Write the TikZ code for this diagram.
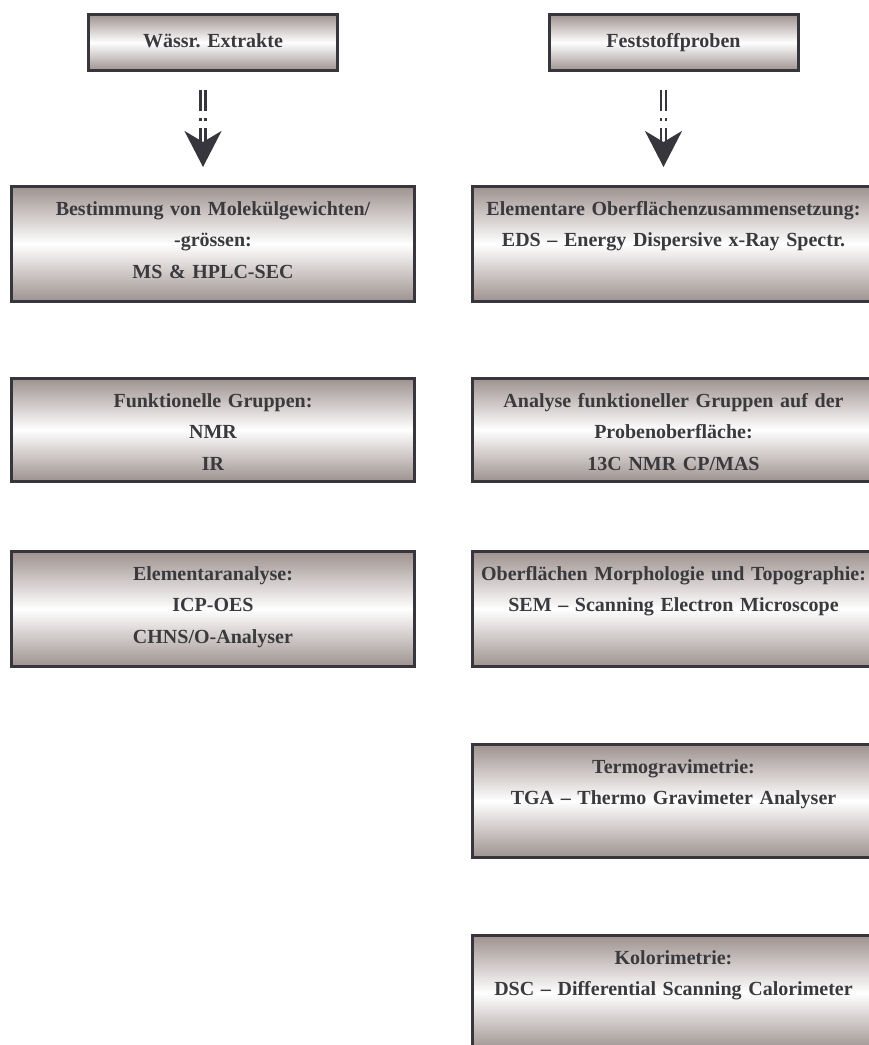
\documentclass[tikz,border=0pt]{standalone}
\usepackage{fontspec}
\setmainfont{Liberation Serif}
\usepackage{tikz}
\usetikzlibrary{arrows.meta,positioning}
\definecolor{boxtone}{RGB}{158,146,143}
\definecolor{boxline}{RGB}{54,54,60}
\definecolor{textgray}{RGB}{58,58,62}
\frenchspacing
\tikzset
{
	probe/.style = {rectangle, draw=boxline, line width=3pt, top color=boxtone, bottom color=boxtone, middle color=white, inner sep=0pt, align=center, font=\fontsize{20}{31.5}\selectfont\bfseries, text=textgray},
	headbox/.style = {probe, text width=249pt, text height=33pt, text depth=23pt},
	methodbox/.style = {probe, text width=403pt, text height=28.5pt, text depth=#1},
	methodbox/.default = 86.5pt,
	flowarrow/.style = {draw=boxline, line width=2.4pt, double=white, double distance=2.6pt, dash pattern=on 21pt off 7pt on 3pt off 7pt on 60pt, shorten <=18pt, shorten >=18pt, -{Stealth[length=36pt, width=37pt, inset=11pt]}}
}

\begin{document}
\begin{tikzpicture}[x=1pt, y=1pt]
\useasboundingbox (0,0) rectangle (869,-1045);
\node[headbox] (wass) at (213,-42.5) {Wässr. Extrakte};
\node[headbox] (fest) at (673.5,-42.5) {Feststoffproben};

\node[methodbox, below=113pt of wass] (mol) {Bestimmung von Molekülgewichten/\\-grössen:\\MS \& HPLC-SEC};
\node[methodbox=74pt, below=74pt of mol] (funk) {Funktionelle Gruppen:\\NMR\\IR};
\node[methodbox, below=67.5pt of funk] (elem) {Elementaranalyse:\\ICP-OES\\CHNS/O-Analyser};

\node[methodbox, below=113pt of fest] (eds) {Elementare Oberflächenzusammensetzung:\\EDS – Energy Dispersive x-Ray Spectr.};
\node[methodbox=74pt, below=74pt of eds] (cpmas) {Analyse funktioneller Gruppen auf der\\Probenoberfläche:\\13C NMR CP/MAS};
\node[methodbox, below=67.5pt of cpmas] (sem) {Oberflächen Morphologie und Topographie:\\SEM – Scanning Electron Microscope};
\node[methodbox=84.5pt, below=75pt of sem] (tga) {Termogravimetrie:\\TGA – Thermo Gravimeter Analyser};
\node[methodbox, below=75pt of tga] (dsc) {Kolorimetrie:\\DSC – Differential Scanning Calorimeter};

\draw[flowarrow] ([xshift=-10pt]wass.south) -- ([xshift=-10pt]mol.north);
\draw[flowarrow] ([xshift=-10pt]fest.south) -- ([xshift=-10pt]eds.north);
\end{tikzpicture}
\end{document}
